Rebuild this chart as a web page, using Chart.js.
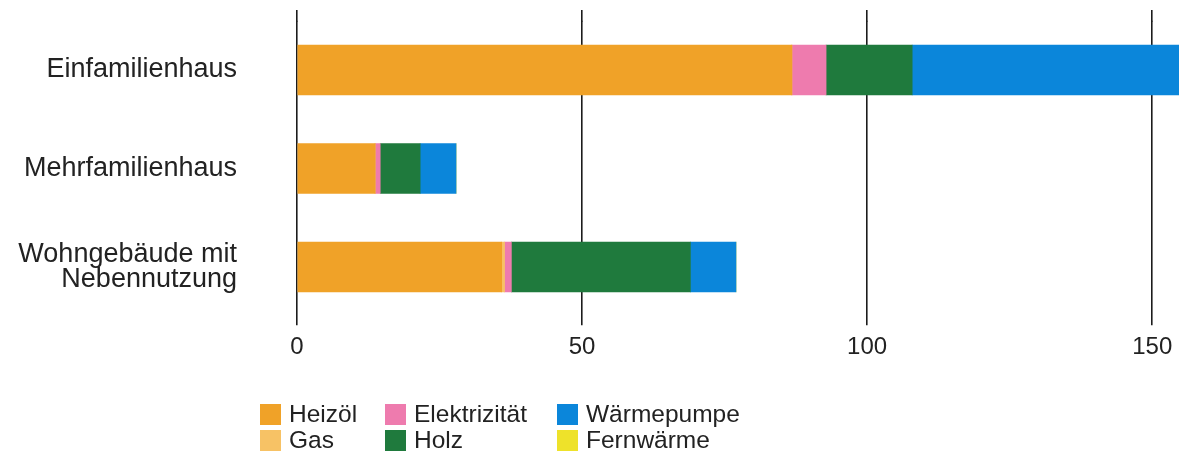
<!DOCTYPE html>
<html>
<head>
<meta charset="utf-8">
<script src="https://cdn.jsdelivr.net/npm/chart.js@4/dist/chart.umd.min.js"></script>
<style>
  html, body { margin: 0; padding: 0; background: #fff; }
  #wrap { position: relative; width: 1179px; height: 458px; overflow: hidden; }
  #c { position: absolute; left: 0; top: 0; }
  .lg { position: absolute; display: flex; align-items: center; font-family: "Liberation Sans", Arial, sans-serif; font-size: 24.5px; color: #222; white-space: nowrap; }
  .lg span.box { display: inline-block; width: 21px; height: 21px; margin-right: 8px; }
</style>
</head>
<body>
<div id="wrap">
  <canvas id="c" width="1179" height="458"></canvas>
</div>
<script>
// ---- data ----
const categories = ["Einfamilienhaus", "Mehrfamilienhaus", ["Wohngebäude mit", "Nebennutzung"]];
const seriesNames = ["Heizöl", "Gas", "Elektrizität", "Holz", "Wärmepumpe", "Fernwärme"];
const heizoel      = [86.8, 13.7, 35.9];
const gas          = [0, 0, 0.5];
const elektrizitaet= [6.0, 0.9, 1.2];
const holz         = [15.1, 7.0, 31.4];
const waermepumpe  = [60.0, 6.3, 8.0];
const fernwaerme   = [0, 0, 0];
const xTicks = [0, 50, 100, 150];

// ---- styling ----
const colors = ["#F0A228", "#F7C265", "#EE7BAE", "#1F7A3D", "#0B86DA", "#EEE22A"];
const seriesValues = [heizoel, gas, elektrizitaet, holz, waermepumpe, fernwaerme];
const GRID_W = 1.6;

const datasets = seriesNames.map((n, i) => ({
  label: n,
  data: seriesValues[i],
  backgroundColor: colors[i],
  borderWidth: 0,
  barThickness: 50
}));

const gridTopExt = {
  id: 'gridTopExt',
  beforeDatasetsDraw(chart) {
    const ctx = chart.ctx, xs = chart.scales.x, top = chart.chartArea.top;
    ctx.save();
    ctx.strokeStyle = '#1c1c1c';
    ctx.lineWidth = GRID_W;
    xTicks.forEach(v => {
      const raw = xs.getPixelForValue(v);
      const px = Math.round(raw - GRID_W / 2) + GRID_W / 2;
      ctx.beginPath();
      ctx.moveTo(px, 10);
      ctx.lineTo(px, top + 1);
      ctx.stroke();
    });
    ctx.restore();
  }
};

new Chart(document.getElementById('c'), {
  type: 'bar',
  data: { labels: categories, datasets },
  options: {
    indexAxis: 'y',
    responsive: false,
    animation: false,
    layout: { padding: { top: 20.75, bottom: 0, left: 0, right: 0 } },
    plugins: { legend: { display: false }, tooltip: { enabled: false } },
    scales: {
      x: {
        stacked: true,
        min: 0,
        max: 154.7,
        afterBuildTicks: s => { s.ticks = xTicks.map(v => ({ value: v })); },
        afterFit: s => { s.height = 458 - 316.25; s.paddingLeft = 0; s.paddingRight = 0; },
        border: { display: false },
        grid: { color: '#1c1c1c', lineWidth: GRID_W, tickLength: 9, drawTicks: true },
        ticks: { color: '#222', padding: 8, font: { family: '"Liberation Sans", Arial, sans-serif', size: 24 }, maxRotation: 0 }
      },
      y: {
        stacked: true,
        afterFit: s => { s.width = 297; s.paddingTop = 0; s.paddingBottom = 0; },
        border: { display: false },
        grid: { display: false, drawTicks: false },
        ticks: { color: '#222', padding: 60, font: { family: '"Liberation Sans", Arial, sans-serif', size: 27, lineHeight: 0.9 } }
      }
    }
  },
  plugins: [gridTopExt]
});

// ---- HTML legend (column-major, 2 rows) ----
const legendCols = [260, 385, 557];
const legendRows = [403, 429];
const wrap = document.getElementById('wrap');
seriesNames.forEach((n, i) => {
  const col = Math.floor(i / 2), row = i % 2;
  const d = document.createElement('div');
  d.className = 'lg';
  d.style.left = legendCols[col] + 'px';
  d.style.top = legendRows[row] + 'px';
  d.style.height = '22px';
  d.innerHTML = '<span class="box" style="background:' + colors[i] + '"></span>' + n;
  wrap.appendChild(d);
});
</script>
</body>
</html>
